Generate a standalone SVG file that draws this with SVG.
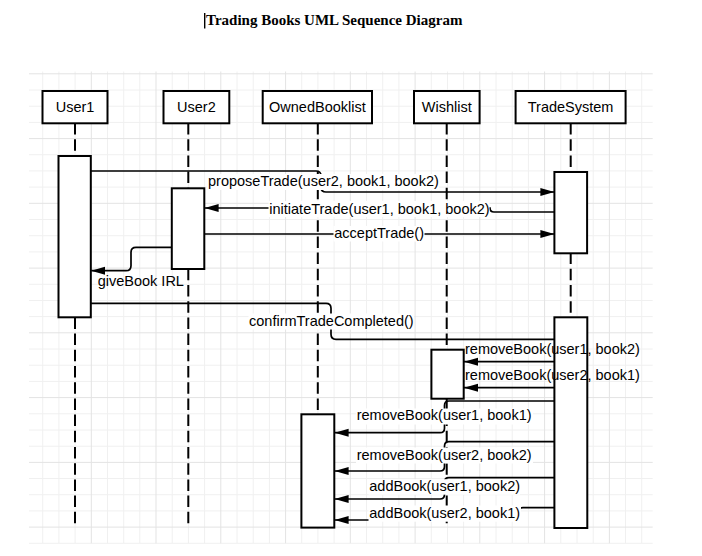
<svg xmlns="http://www.w3.org/2000/svg" width="702" height="556" viewBox="0 0 702 556">
<style>
.gmin{stroke:#f0f0f0;stroke-width:1;fill:none}
.gmaj{stroke:#e3e3e3;stroke-width:1;fill:none}
.hdr{fill:#fff;stroke:#000;stroke-width:2}
.act{fill:#fff;stroke:#000;stroke-width:2}
.life{stroke:#000;stroke-width:2;stroke-dasharray:11.5 4.7;fill:none}
.msg{stroke:#000;stroke-width:1.7;fill:none}
.arr{marker-end:url(#ah)}
.lbl{font-family:"Liberation Sans",Arial,sans-serif;font-size:14.5px;fill:#000}
.nm{font-family:"Liberation Sans",Arial,sans-serif;font-size:14.5px;fill:#000;text-anchor:middle}
.bg{fill:#fff;stroke:none}
</style>
<defs>
<marker id="ah" markerUnits="userSpaceOnUse" markerWidth="15" markerHeight="9" refX="14" refY="4" orient="auto"><path d="M0,0 L14,4 L0,8 Z" fill="#000"/></marker>
</defs>
<rect x="0" y="0" width="702" height="556" fill="#fff"/>
<g id="grid">
<path class="gmin" d="M42.7,71.5V543.3M58.9,71.5V543.3M75.1,71.5V543.3M107.5,71.5V543.3M123.7,71.5V543.3M139.8,71.5V543.3M172.2,71.5V543.3M188.4,71.5V543.3M204.6,71.5V543.3M237,71.5V543.3M253.2,71.5V543.3M269.4,71.5V543.3M301.7,71.5V543.3M317.9,71.5V543.3M334.1,71.5V543.3M366.5,71.5V543.3M382.7,71.5V543.3M398.9,71.5V543.3M431.3,71.5V543.3M447.5,71.5V543.3M463.6,71.5V543.3M496,71.5V543.3M512.2,71.5V543.3M528.4,71.5V543.3M560.8,71.5V543.3M577,71.5V543.3M593.2,71.5V543.3M625.5,71.5V543.3M641.7,71.5V543.3M29,543.3H652.7M29,510.9H652.7M29,494.7H652.7M29,478.5H652.7M29,446.2H652.7M29,430H652.7M29,413.8H652.7M29,381.4H652.7M29,365.2H652.7M29,349H652.7M29,316.6H652.7M29,300.5H652.7M29,284.3H652.7M29,251.9H652.7M29,235.7H652.7M29,219.5H652.7M29,187.1H652.7M29,170.9H652.7M29,154.7H652.7M29,122.4H652.7M29,106.2H652.7M29,90H652.7"/>
<path class="gmaj" d="M91.3,71.5V543.3M156,71.5V543.3M220.8,71.5V543.3M285.6,71.5V543.3M350.3,71.5V543.3M415.1,71.5V543.3M479.8,71.5V543.3M544.6,71.5V543.3M609.4,71.5V543.3M29,527.1H652.7M29,462.4H652.7M29,397.6H652.7M29,332.8H652.7M29,268.1H652.7M29,203.3H652.7M29,138.6H652.7M29,73.8H652.7"/>
</g>
<line x1="204.7" y1="13" x2="204.7" y2="28.5" stroke="#000" stroke-width="1.4"/>
<text x="206" y="25" font-family="'Liberation Serif','Times New Roman',serif" font-weight="bold" font-size="15" fill="#000">Trading Books UML Sequence Diagram</text>
<g id="User1">
<line class="life" x1="75" y1="123" x2="75" y2="527.5"/>
<rect class="act" x="58.5" y="156" width="32.3" height="161.3"/>
<rect class="hdr" x="42.5" y="91" width="65" height="32.3"/>
<text class="nm" x="75" y="111.5">User1</text>
</g>
<g id="User2">
<line class="life" x1="188.3" y1="123" x2="188.3" y2="527.5"/>
<rect class="act" x="171.8" y="188.3" width="32.5" height="80.7"/>
<rect class="hdr" x="163.5" y="91" width="65.8" height="32.3"/>
<text class="nm" x="196.4" y="111.5">User2</text>
</g>
<g id="OwnedBooklist">
<line class="life" x1="317.8" y1="123" x2="317.8" y2="527.5"/>
<rect class="act" x="301.4" y="414.3" width="32.9" height="113.3"/>
<rect class="hdr" x="262.7" y="91" width="109.3" height="32.3"/>
<text class="nm" x="317.4" y="111.5">OwnedBooklist</text>
</g>
<g id="Wishlist">
<line class="life" x1="446.7" y1="123" x2="446.7" y2="527.5"/>
<rect class="act" x="431.4" y="349.7" width="32.3" height="49"/>
<rect class="hdr" x="414" y="91" width="65.6" height="32.3"/>
<text class="nm" x="446.8" y="111.5">Wishlist</text>
</g>
<g id="TradeSystem">
<line class="life" x1="570.7" y1="123" x2="570.7" y2="527.5"/>
<rect class="act" x="554.4" y="172" width="32.7" height="81.3"/>
<rect class="act" x="554.4" y="317.3" width="32.9" height="210.7"/>
<rect class="hdr" x="515.6" y="91" width="110" height="32.3"/>
<text class="nm" x="570.6" y="111.5">TradeSystem</text>
</g>
<g id="connectors">
<path class="msg arr" d="M91,171 H316 Q321,171 321,176 V187 Q321,192 326,192 H554.4"/>
<path class="msg arr" d="M554.4,212 H494 Q490,212 490,208 H204.6"/>
<path class="msg arr" d="M204.3,234 H554.4"/>
<path class="msg arr" d="M171.8,247.3 H136 Q131,247.3 131,252.3 V265.7 Q131,270.7 126,270.7 H91.2"/>
<path class="msg" d="M90.8,303.3 H326 Q331,303.3 331,308.3 V334.3 Q331,339.3 336,339.3 H554.4"/>
<path class="msg arr" d="M554.4,361.7 H464"/>
<path class="msg arr" d="M554.4,387.7 H464"/>
<path class="msg arr" d="M554.4,401 H449 Q444.5,401 444.5,405.5 V428.2 Q444.5,432.7 440,432.7 H334.6"/>
<path class="msg arr" d="M554.4,441.7 H449 Q444.5,441.7 444.5,446.2 V466.5 Q444.5,471 440,471 H334.6"/>
<path class="msg arr" d="M554.4,477.7 H449 Q444.5,477.7 444.5,482.2 V494.5 Q444.5,499 440,499 H334.6"/>
<path class="msg arr" d="M554.4,507.7 H523 Q519,507.7 519,511.7 V516 Q519,520 515,520 H334.6"/>
<rect class="bg" x="207" y="174" width="232" height="16"/>
<rect class="bg" x="268.5" y="201" width="221" height="16"/>
<rect class="bg" x="333.5" y="226" width="91" height="15.5"/>
<rect class="bg" x="248.5" y="313.5" width="165.5" height="16"/>
<rect class="bg" x="356" y="408.5" width="177" height="16"/>
<rect class="bg" x="356" y="447.5" width="177" height="16"/>
<rect class="bg" x="368.5" y="479.2" width="151.5" height="15.5"/>
<rect class="bg" x="368.5" y="505.5" width="152.5" height="16.2"/>
<text class="lbl" x="208" y="186">proposeTrade(user2, book1, book2)</text>
<text class="lbl" x="269.3" y="213.5">initiateTrade(user1, book1, book2)</text>
<text class="lbl" x="334.3" y="238">acceptTrade()</text>
<text class="lbl" x="97.7" y="286">giveBook IRL</text>
<text class="lbl" x="249" y="325.5">confirmTradeCompleted()</text>
<text class="lbl" x="465" y="353.5">removeBook(user1, book2)</text>
<text class="lbl" x="465" y="379.7">removeBook(user2, book1)</text>
<text class="lbl" x="356.7" y="420.4">removeBook(user1, book1)</text>
<text class="lbl" x="356.7" y="459.7">removeBook(user2, book2)</text>
<text class="lbl" x="369.3" y="491">addBook(user1, book2)</text>
<text class="lbl" x="369.3" y="517.5">addBook(user2, book1)</text>
</g>
</svg>
